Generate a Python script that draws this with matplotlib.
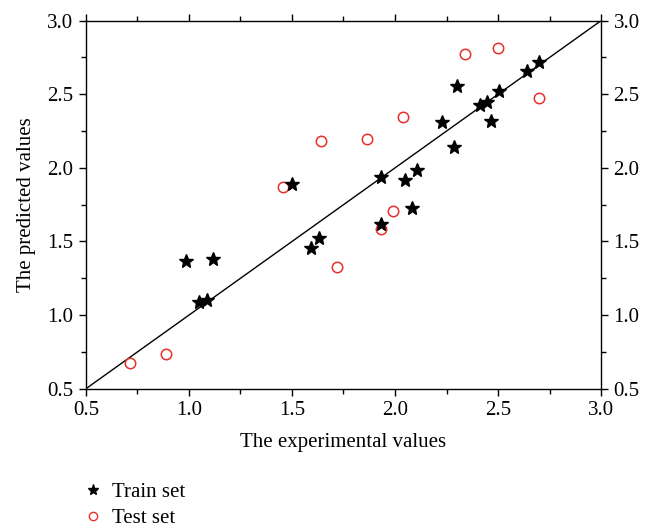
import matplotlib
matplotlib.use('Agg')
import matplotlib.pyplot as plt
from matplotlib.ticker import MultipleLocator
from matplotlib.lines import Line2D

# train set (experimental, predicted)
train_x = [0.985, 1.049, 1.087, 1.117, 1.502, 1.591, 1.630, 1.930, 1.934, 2.049,
           2.081, 2.108, 2.227, 2.288, 2.299, 2.413, 2.445, 2.466, 2.505, 2.642, 2.699]
train_y = [1.368, 1.091, 1.100, 1.381, 1.891, 1.456, 1.526, 1.940, 1.619, 1.918,
           1.730, 1.986, 2.310, 2.144, 2.558, 2.427, 2.448, 2.319, 2.522, 2.660, 2.717]

# test set
test_x = [0.715, 0.890, 1.456, 1.639, 1.720, 1.864, 1.930, 1.990, 2.039, 2.341, 2.499, 2.697]
test_y = [0.672, 0.734, 1.872, 2.183, 1.326, 2.196, 1.585, 1.709, 2.344, 2.774, 2.814, 2.475]

ref_line = [0.5, 3.0]

FONT = 'Liberation Serif'
TICK_SIZE = 15
LABEL_SIZE = 15

plt.rcParams['font.family'] = [FONT, 'DejaVu Serif']

fig = plt.figure(figsize=(6.45, 5.32), dpi=100)
ax = fig.add_axes([0.1333, 0.2694, 0.7985, 0.6917])

ax.plot(ref_line, ref_line, color='black', lw=1.0, zorder=1)
ax.plot(test_x, test_y, linestyle='none', marker='o', markersize=7.5,
        markerfacecolor='none', markeredgecolor='#e8302a', markeredgewidth=1.1, zorder=2)
ax.plot(train_x, train_y, linestyle='none', marker='*', markersize=10.5,
        color='black', zorder=3)

ax.set_xlim(0.5, 3.0)
ax.set_ylim(0.5, 3.0)
for axis in (ax.xaxis, ax.yaxis):
    axis.set_major_locator(MultipleLocator(0.5))
    axis.set_minor_locator(MultipleLocator(0.25))
ax.xaxis.set_major_formatter(plt.FormatStrFormatter('%.1f'))
ax.yaxis.set_major_formatter(plt.FormatStrFormatter('%.1f'))

ax.tick_params(which='both', direction='out', top=True, right=True,
               labelright=True, labelsize=TICK_SIZE, width=1.0)
ax.tick_params(which='major', length=5, pad=4)
ax.tick_params(which='minor', length=3.5)
for s in ax.spines.values():
    s.set_linewidth(1.0)

ax.set_xlabel('The experimental values', fontsize=LABEL_SIZE, labelpad=9)
ax.set_ylabel('The predicted values', fontsize=LABEL_SIZE, labelpad=8)

handles = [
    Line2D([], [], linestyle='none', marker='*', markersize=8, color='black'),
    Line2D([], [], linestyle='none', marker='o', markersize=6,
           markerfacecolor='none', markeredgecolor='#e8302a', markeredgewidth=1.0),
]
fig.legend(handles, ['Train set', 'Test set'], loc='upper left',
           bbox_to_anchor=(0.115, 0.112), frameon=False, fontsize=LABEL_SIZE,
           handlelength=0.8, handletextpad=0.5, labelspacing=0.3, borderpad=0)

fig.savefig('out.png', dpi=100)
